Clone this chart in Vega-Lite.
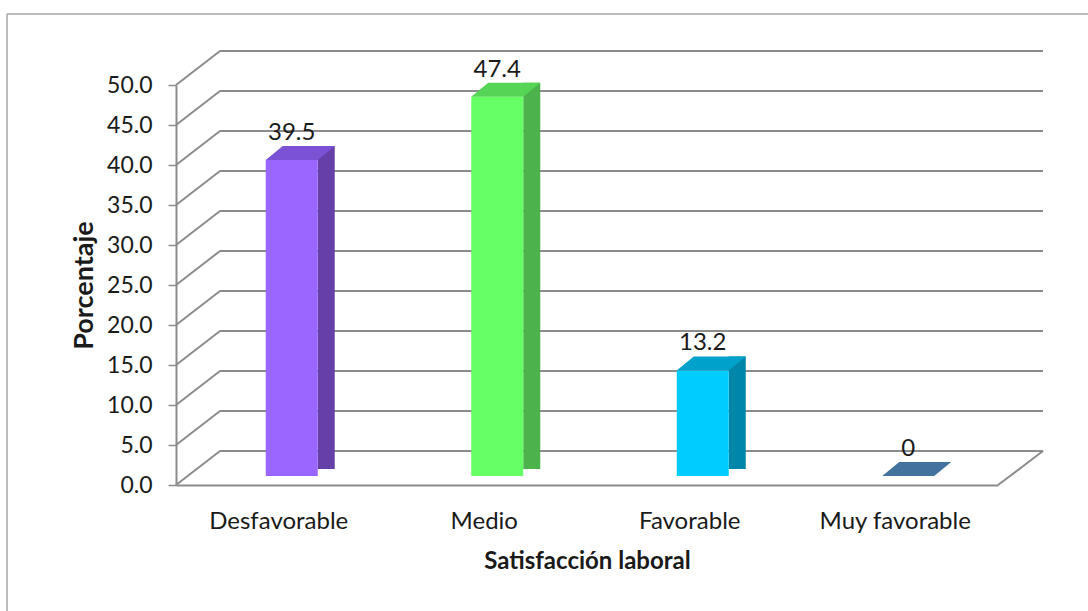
{
  "$schema": "https://vega.github.io/schema/vega-lite/v6.json",
  "width": 822,
  "height": 400,
  "autosize": "none",
  "padding": {"left": 176, "top": 85, "right": 90, "bottom": 126},
  "background": "white",
  "config": {
    "view": {"stroke": null},
    "font": "Lato",
    "axis": {"labelFont": "Lato", "titleFont": "Lato", "labelColor": "#1a1a1a", "titleColor": "#1a1a1a"},
    "axisY": {"labelOverlap": false, "labelSeparation": 0}
  },
  "datasets": {
    "bars": [
      {"cat": "Desfavorable", "v": 39.5},
      {"cat": "Medio", "v": 47.4},
      {"cat": "Favorable", "v": 13.2},
      {"cat": "Muy favorable", "v": 0}
    ],
    "ticks": [
      {"v": 0}, {"v": 5}, {"v": 10}, {"v": 15}, {"v": 20}, {"v": 25},
      {"v": 30}, {"v": 35}, {"v": 40}, {"v": 45}, {"v": 50}
    ]
  },
  "encoding": {
    "y": {
      "field": "v", "type": "quantitative", "title": "Porcentaje",
      "scale": {"domain": [0, 50], "nice": false, "zero": true},
      "axis": {
        "values": [0, 5, 10, 15, 20, 25, 30, 35, 40, 45, 50],
        "format": ".1f",
        "grid": false,
        "labelOverlap": false,
        "domain": true, "domainColor": "#8c8c8c", "domainWidth": 2,
        "ticks": true, "tickColor": "#8c8c8c", "tickWidth": 1.5, "tickSize": 8,
        "labelFontSize": 23, "labelPadding": 16,
        "titleFontSize": 27, "titleFontWeight": "bold", "titlePadding": 8
      }
    }
  },
  "layer": [
    {
      "data": {"name": "ticks"},
      "mark": {"type": "rule", "color": "#8c8c8c", "strokeWidth": 2, "xOffset": 44, "x2Offset": 45, "yOffset": -34, "y2Offset": -34},
      "encoding": {
        "x": {"datum": 0, "type": "quantitative", "scale": {"domain": [0, 1]}, "axis": null},
        "x2": {"datum": 1},
        "y2": {"field": "v"}
      }
    },
    {
      "data": {"name": "ticks"},
      "transform": [{"filter": "datum.v == 50"}],
      "mark": {"type": "rule", "color": "#a6a6a6", "strokeWidth": 1.5, "xOffset": -169, "x2Offset": 100, "yOffset": -71, "y2Offset": -71},
      "encoding": {
        "x": {"datum": 0, "type": "quantitative", "scale": {"domain": [0, 1]}, "axis": null},
        "x2": {"datum": 1},
        "y2": {"field": "v"}
      }
    },
    {
      "data": {"name": "ticks"},
      "transform": [{"filter": "datum.v == 50"}],
      "mark": {"type": "rule", "color": "#a6a6a6", "strokeWidth": 1.5, "xOffset": -169, "x2Offset": -169, "yOffset": -71, "y2Offset": 200},
      "encoding": {
        "x": {"datum": 0, "type": "quantitative", "scale": {"domain": [0, 1]}, "axis": null},
        "x2": {"datum": 0},
        "y2": {"datum": 0}
      }
    },
    {
      "data": {"name": "ticks"},
      "mark": {"type": "rule", "color": "#8c8c8c", "strokeWidth": 2, "x2Offset": 44, "y2Offset": -34},
      "encoding": {
        "x": {"datum": 0, "type": "quantitative", "scale": {"domain": [0, 1]}, "axis": null},
        "x2": {"datum": 0},
        "y2": {"field": "v"}
      }
    },
    {
      "data": {"name": "ticks"},
      "transform": [{"filter": "datum.v == 0"}],
      "mark": {"type": "rule", "color": "#8c8c8c", "strokeWidth": 2, "x2Offset": 45, "y2Offset": -34},
      "encoding": {
        "x": {"datum": 1, "type": "quantitative", "scale": {"domain": [0, 1]}, "axis": null},
        "x2": {"datum": 1},
        "y2": {"field": "v"}
      }
    },
    {
      "data": {"name": "bars"},
      "transform": [{"filter": "datum.v > 0"}],
      "mark": {"type": "bar", "width": 17, "xOffset": 47.5, "yOffset": -23, "y2Offset": -16},
      "encoding": {
        "x": {"field": "cat", "type": "nominal", "scale": {"domain": ["Desfavorable", "Medio", "Favorable", "Muy favorable"], "paddingInner": 0, "paddingOuter": 0}, "axis": null},
        "y2": {"datum": 0},
        "color": {"field": "cat", "type": "nominal", "legend": null,
          "scale": {"domain": ["Desfavorable", "Medio", "Favorable", "Muy favorable"], "range": ["#6640A8", "#4CB24C", "#0086A8", "#44729E"]}}
      }
    },
    {
      "data": {"name": "bars"},
      "mark": {"type": "bar", "width": 52, "xOffset": 13, "yOffset": -9, "y2Offset": -9},
      "encoding": {
        "x": {"field": "cat", "type": "nominal", "scale": {"domain": ["Desfavorable", "Medio", "Favorable", "Muy favorable"], "paddingInner": 0, "paddingOuter": 0},
          "title": "Satisfacción laboral",
          "axis": {"labelAngle": 0, "domain": true, "domainColor": "#8c8c8c", "domainWidth": 2, "ticks": false,
            "labelFontSize": 24, "labelPadding": 24, "titleFontSize": 24, "titleFontWeight": "bold", "titlePadding": 16}},
        "y2": {"datum": 0},
        "color": {"field": "cat", "type": "nominal", "legend": null,
          "scale": {"domain": ["Desfavorable", "Medio", "Favorable", "Muy favorable"], "range": ["#9966FF", "#66FF66", "#00CCFF", "#44729E"]}}
      }
    },
    {
      "data": {"name": "bars"},
      "mark": {"type": "point", "filled": true, "opacity": 1, "strokeWidth": 0, "size": 4761, "xOffset": 21.5, "yOffset": -16,
        "shape": "M -1 0.203 L 0.507 0.203 L 1 -0.203 L -0.507 -0.203 Z"},
      "encoding": {
        "x": {"field": "cat", "type": "nominal", "scale": {"domain": ["Desfavorable", "Medio", "Favorable", "Muy favorable"], "paddingInner": 0, "paddingOuter": 0}, "axis": null},
        "color": {"field": "cat", "type": "nominal", "legend": null,
          "scale": {"domain": ["Desfavorable", "Medio", "Favorable", "Muy favorable"], "range": ["#7B52D4", "#55D455", "#00A2CC", "#44729E"]}}
      }
    },
    {
      "data": {"name": "bars"},
      "mark": {"type": "text", "font": "Lato", "fontSize": 24, "color": "#1a1a1a", "baseline": "alphabetic", "align": "center", "xOffset": 13, "yOffset": -29},
      "encoding": {
        "x": {"field": "cat", "type": "nominal", "scale": {"domain": ["Desfavorable", "Medio", "Favorable", "Muy favorable"], "paddingInner": 0, "paddingOuter": 0}, "axis": null},
        "text": {"field": "v", "type": "nominal"}
      }
    }
  ],
  "resolve": {"scale": {"x": "independent", "color": "independent"}}
}
